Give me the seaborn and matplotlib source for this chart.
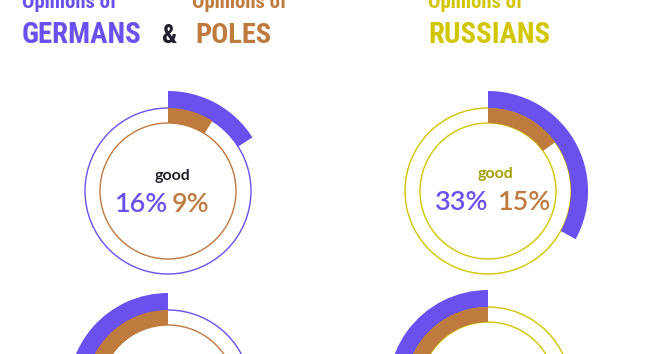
import matplotlib
matplotlib.use("Agg")
import matplotlib.pyplot as plt
from matplotlib.patches import Wedge, Circle
import seaborn as sns

# ---- data ----
panels = ["Germans & Poles", "Russians"]
rows = ["good", "bad"]
purple_values = {"good": [16, 33], "bad": [27, 30]}   # % (bottom row mostly cropped)
brown_values = {"good": [9, 15], "bad": [24, 26]}
title_words = ["GERMANS", "POLES", "RUSSIANS"]
subtitle = "Opinions of"

# ---- style ----
sns.set_theme(style="white")
PURPLE = "#6a50ee"
BROWN = "#bf7a3e"
YELLOW = "#d2c600"
DARK = "#1f1f2b"
GOOD_RU = "#a69e00"
COND = ["Liberation Sans Narrow", "Roboto Condensed", "DejaVu Sans"]
NUM = ["Lato", "DejaVu Sans"]

W, H = 670, 354
fig = plt.figure(figsize=(W / 100, H / 100), dpi=100)
ax = fig.add_axes([0, 0, 1, 1])
ax.set_xlim(0, W)
ax.set_ylim(0, H)
ax.set_aspect("equal")
ax.axis("off")
renderer = fig.canvas.get_renderer()

def Y(ypix):
    return H - ypix

def fit_text(x, y, s, target_w, max_size, **kw):
    t = ax.text(x, y, s, fontsize=max_size, **kw)
    w = t.get_window_extent(renderer).width
    if w > target_w:
        t.set_fontsize(max_size * target_w / w)
    return t

centers = {("good", 0): (168, 191), ("good", 1): (488, 191),
           ("bad", 0): (168, 393), ("bad", 1): (488, 390)}
ring_colors = [(PURPLE, BROWN), (YELLOW, YELLOW)]
R_IN, R_MID, R_OUT = 68, 83, 100

for row in rows:
    for i, _ in enumerate(panels):
        cx, cy = centers[(row, i)]
        cy = Y(cy)
        pv = purple_values[row][i] / 100 * 360
        bv = brown_values[row][i] / 100 * 360
        if row == "good":
            p1, p2 = 90 - pv, 90
            b1, b2 = 90 - bv, 90
        else:
            p1, p2 = 90, 90 + pv
            b1, b2 = 90, 90 + bv
        ax.add_patch(Wedge((cx, cy), R_OUT, p1, p2, width=R_OUT - R_MID,
                           facecolor=PURPLE, edgecolor="none", zorder=3))
        ax.add_patch(Wedge((cx, cy), R_MID, b1, b2, width=R_MID - R_IN,
                           facecolor=BROWN, edgecolor="none", zorder=3))
        oc, ic = ring_colors[i]
        ax.add_patch(Circle((cx, cy), R_MID, fill=False, edgecolor=oc, lw=1.0, zorder=2))
        ax.add_patch(Circle((cx, cy), R_IN, fill=False, edgecolor=ic, lw=1.0, zorder=2))

# center labels (top row)
NS = 19.5
ax.text(172, Y(176), "good", ha="center", va="center", fontsize=11.5,
        fontweight="bold", color=DARK, family=NUM)
ax.text(167, Y(205), f"{purple_values['good'][0]}%", ha="right", va="center",
        fontsize=NS, color=PURPLE, family=NUM, fontweight="semibold")
ax.text(172, Y(205), f"{brown_values['good'][0]}%", ha="left", va="center",
        fontsize=NS, color=BROWN, family=NUM, fontweight="semibold")

ax.text(495, Y(174), "good", ha="center", va="center", fontsize=11.5,
        fontweight="bold", color=GOOD_RU, family=NUM)
ax.text(488, Y(202), f"{purple_values['good'][1]}%", ha="right", va="center",
        fontsize=NS, color=PURPLE, family=NUM, fontweight="semibold")
ax.text(497, Y(202), f"{brown_values['good'][1]}%", ha="left", va="center",
        fontsize=NS, color=BROWN, family=NUM, fontweight="semibold")

# titles
for x, col in [(22, PURPLE), (192, BROWN), (428, YELLOW)]:
    fit_text(x, Y(8), subtitle, 95, 15, ha="left", va="baseline",
             fontweight="bold", color=col, family=COND)
for x, word, col, w in [(22, title_words[0], PURPLE, 120), (195, title_words[1], BROWN, 76),
                        (428, title_words[2], YELLOW, 122)]:
    fit_text(x, Y(43), word, w, 21, ha="left", va="baseline",
             fontweight="bold", color=col, family=COND)
ax.text(169, Y(43), "&", ha="center", va="baseline", fontsize=19,
        fontweight="bold", color=DARK, family=COND)

fig.savefig("out.png", dpi=100)
